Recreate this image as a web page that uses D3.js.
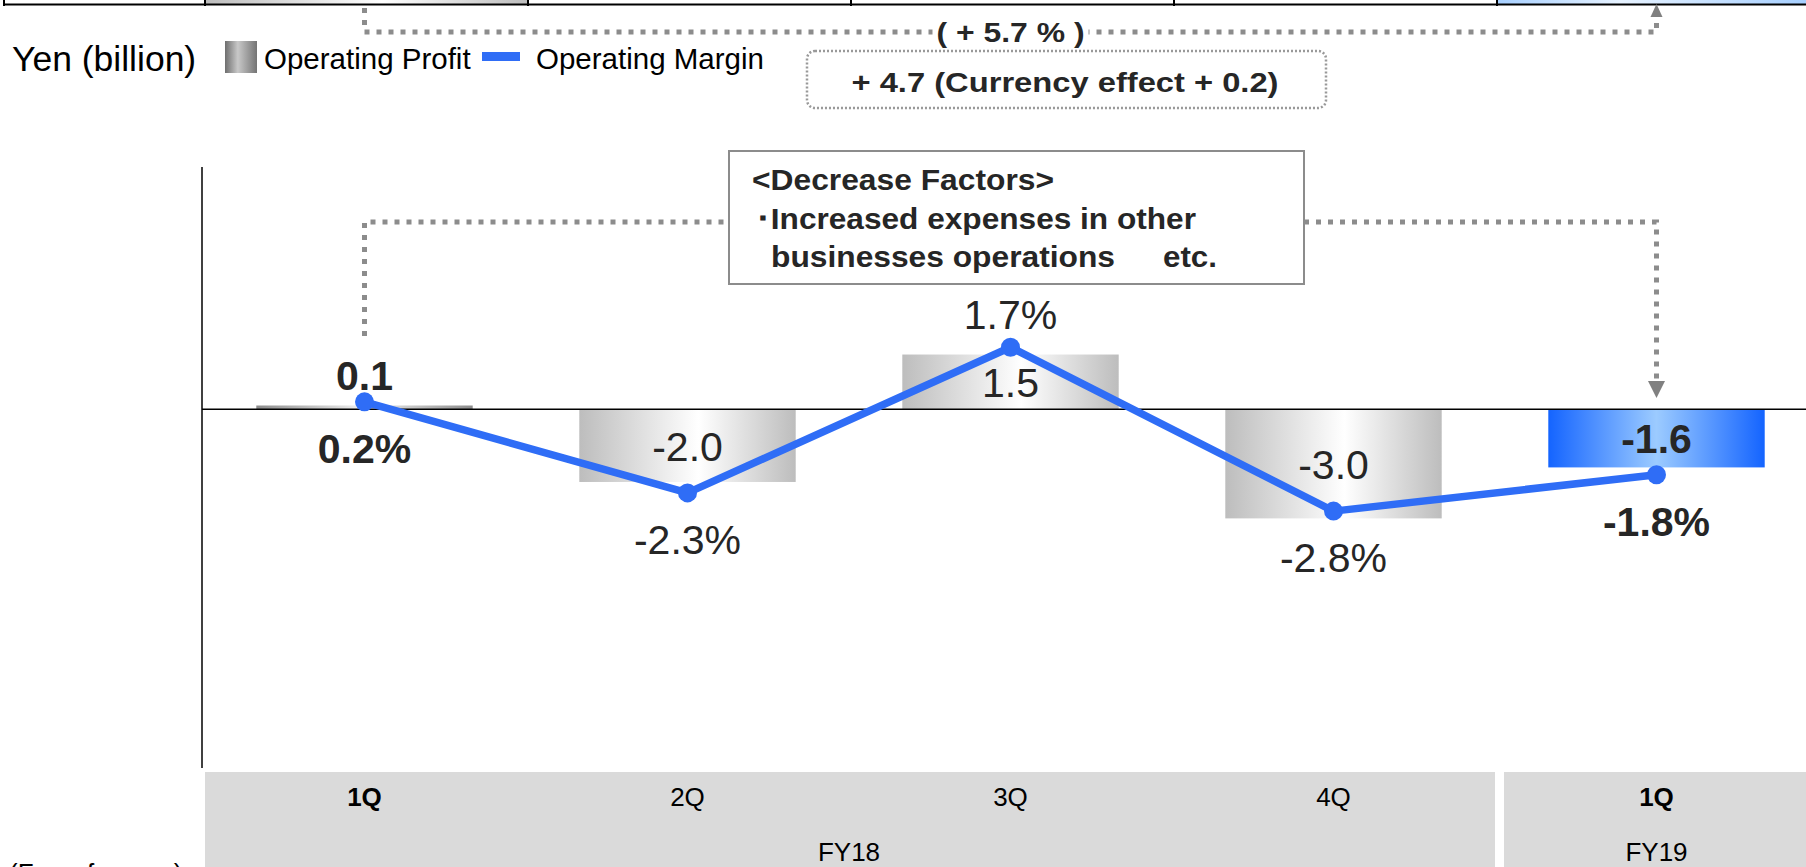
<!DOCTYPE html>
<meta charset="utf-8">
<script src="https://d3js.org/d3.v7.min.js"></script>
<style>
  body { margin: 0; background: #fff; overflow: hidden; }
  text { font-family: "Liberation Sans", Arial, sans-serif; }
</style>
<svg id="chart" width="1806" height="867"></svg>

<script>

// Data
var quarters = ["1Q", "2Q", "3Q", "4Q", "1Q"];
var fiscalYears = ["FY18", "FY18", "FY18", "FY18", "FY19"];
var operatingProfit = [0.1, -2.0, 1.5, -3.0, -1.6];   // Yen (billion)
var operatingMargin = [0.2, -2.3, 1.7, -2.8, -1.8];   // %
var compareIdx = [0, 4];                              // quarters being compared (bold)

// Annotation texts
var unitText = "Yen (billion)";
var legendNames = ["Operating Profit", "Operating Margin"];
var changeText = "( + 5.7 % )";
var currencyText = "+ 4.7 (Currency effect  + 0.2)";
var factorTitle = "<Decrease Factors>";
var factorLine1 = "･Increased expenses in other";
var factorLine2 = "businesses operations";
var factorEtc = "etc.";
var footText = "(For reference)";

var svg = d3.select("#chart"),
  width = +svg.attr("width"),
  height = +svg.attr("height");

var keys = quarters.map(function(q, i) { return fiscalYears[i] + " " + q; });

var x = d3.scaleBand()
  .domain(keys)
  .range([203, 1818])
  .paddingInner(0.33)
  .paddingOuter(0.165);

var y = d3.scaleLinear()
  .domain([-9.8, 6.65])
  .range([766, 167]);

var step = x.step(), bw = x.bandwidth(), half = (step - bw) / 2;
function cx(i) { return x(keys[i]) + bw / 2; }

var lineColor = "#2f6df6";
var textColor = "#262626";
var dotGray = "#8c8c8c";

// gradients
var defs = svg.append("defs");
function hGrad(id, stops) {
  var g = defs.append("linearGradient").attr("id", id)
    .attr("x1", "0%").attr("x2", "100%").attr("y1", "0%").attr("y2", "0%");
  stops.forEach(function(s) {
    g.append("stop").attr("offset", s[0]).attr("stop-color", s[1]);
  });
}
hGrad("gGray", [["0%", "#bdbdbd"], ["55%", "#ffffff"], ["100%", "#bdbdbd"]]);
hGrad("gGrayDark", [["0%", "#8c8c8c"], ["50%", "#f2f2f2"], ["100%", "#8c8c8c"]]);
hGrad("gBlue", [["0%", "#1464ff"], ["50%", "#9ccbff"], ["100%", "#1464ff"]]);
hGrad("gBlueTop", [["0%", "#a6cfff"], ["40%", "#e6f2ff"], ["100%", "#a6cfff"]]);
hGrad("gLegend", [["0%", "#6e6e6e"], ["40%", "#c8c8c8"], ["100%", "#747474"]]);

// bottom of the chart above (cut off by the page edge)
var topDeco = svg.append("g");
topDeco.append("rect").attr("x", x(keys[0]) - half + 2).attr("y", 0)
  .attr("width", step).attr("height", 4).attr("fill", "url(#gGray)");
topDeco.append("rect").attr("x", x(keys[4]) - half + 2).attr("y", 0)
  .attr("width", width - (x(keys[4]) - half + 2)).attr("height", 4).attr("fill", "url(#gBlueTop)");
topDeco.append("line").attr("x1", 4).attr("x2", width).attr("y1", 4.5).attr("y2", 4.5)
  .attr("stroke", "#000").attr("stroke-width", 2);
[4].concat(keys.map(function(k) { return x(k) - half + 2; })).forEach(function(t) {
  topDeco.append("line").attr("x1", t).attr("x2", t).attr("y1", 0).attr("y2", 6)
    .attr("stroke", "#000").attr("stroke-width", 2);
});

// category strip
var years = Array.from(new Set(fiscalYears));
years.forEach(function(fy, gi) {
  var idx = d3.range(keys.length).filter(function(i) { return fiscalYears[i] === fy; });
  var x0 = x(keys[idx[0]]) - half + (gi ? 9 : 2);
  var x1 = x(keys[idx[idx.length - 1]]) + bw + half;
  svg.append("rect").attr("x", x0).attr("y", 772)
    .attr("width", x1 - x0).attr("height", 120).attr("fill", "#dadada");
  svg.append("text").attr("x", (x(keys[idx[0]]) + x(keys[idx[idx.length - 1]]) + bw) / 2)
    .attr("y", 861).attr("text-anchor", "middle")
    .attr("font-size", 26).attr("fill", "#000").text(fy);
});
svg.selectAll(".qLabel")
  .data(keys)
  .enter()
  .append("text")
    .attr("class", "qLabel")
    .attr("x", function(d, i) { return cx(i); })
    .attr("y", 806)
    .attr("text-anchor", "middle")
    .attr("font-size", 26)
    .attr("font-weight", function(d, i) { return compareIdx.indexOf(i) >= 0 ? "bold" : "normal"; })
    .attr("fill", "#000")
    .text(function(d, i) { return quarters[i]; });

// partly below the page edge, as in the slide
svg.append("text").attr("x", 9).attr("y", 882).attr("font-size", 26).attr("fill", "#000").text(footText);

// axis lines
svg.append("line").attr("x1", 202).attr("x2", 202).attr("y1", y.range()[1]).attr("y2", 768)
  .attr("stroke", "#000").attr("stroke-width", 1.5);

// bars
svg.selectAll(".bar")
  .data(operatingProfit)
  .enter()
  .append("rect")
    .attr("class", "bar")
    .attr("x", function(d, i) { return x(keys[i]); })
    .attr("width", bw)
    .attr("y", function(d) { return y(Math.max(0, d)); })
    .attr("height", function(d) { return Math.abs(y(d) - y(0)); })
    .attr("fill", function(d, i) {
      if (i === compareIdx[1]) return "url(#gBlue)";
      if (i === compareIdx[0]) return "url(#gGrayDark)";
      return "url(#gGray)";
    });

svg.append("line").attr("x1", 202).attr("x2", width).attr("y1", y(0)).attr("y2", y(0))
  .attr("stroke", "#000").attr("stroke-width", 1.5);

// bar labels
svg.selectAll(".barLabel")
  .data(operatingProfit)
  .enter()
  .append("text")
    .attr("class", "barLabel")
    .attr("x", function(d, i) { return cx(i); })
    .attr("y", function(d) {
      if (Math.abs(d) < 0.5) return y(Math.max(0, d)) - 16;
      return (y(0) + y(d)) / 2 + 15;
    })
    .attr("text-anchor", "middle")
    .attr("font-size", 41)
    .attr("font-weight", function(d, i) { return compareIdx.indexOf(i) >= 0 ? "bold" : "normal"; })
    .attr("fill", textColor)
    .text(function(d) { return d.toFixed(1); });

// margin line
var line = d3.line()
  .x(function(d, i) { return cx(i); })
  .y(function(d) { return y(d); });

svg.append("path")
  .datum(operatingMargin)
  .attr("d", line)
  .attr("fill", "none")
  .attr("stroke", lineColor)
  .attr("stroke-width", 7.5)
  .attr("stroke-linejoin", "round");

svg.selectAll(".dot")
  .data(operatingMargin)
  .enter()
  .append("circle")
    .attr("cx", function(d, i) { return cx(i); })
    .attr("cy", function(d) { return y(d); })
    .attr("r", 9.5)
    .attr("fill", lineColor);

function isPeak(i) {
  var n = operatingMargin.length, v = operatingMargin[i];
  return i > 0 && i < n - 1 && v > operatingMargin[i - 1] && v > operatingMargin[i + 1];
}
svg.selectAll(".mLabel")
  .data(operatingMargin)
  .enter()
  .append("text")
    .attr("x", function(d, i) { return cx(i); })
    .attr("y", function(d, i) { return isPeak(i) ? y(d) - 18 : y(d) + 61; })
    .attr("text-anchor", "middle")
    .attr("font-size", 41)
    .attr("font-weight", function(d, i) { return compareIdx.indexOf(i) >= 0 ? "bold" : "normal"; })
    .attr("fill", textColor)
    .text(function(d) { return d.toFixed(1) + "%"; });

// legend
var legend = svg.append("g");
legend.append("text").attr("x", 12).attr("y", 71).attr("font-size", 35.5).attr("fill", "#000").text(unitText);
legend.append("rect").attr("x", 225).attr("y", 41).attr("width", 32).attr("height", 32).attr("fill", "url(#gLegend)");
legend.append("text").attr("x", 264).attr("y", 69).attr("font-size", 29.5).attr("fill", "#000").text(legendNames[0]);
legend.append("rect").attr("x", 482).attr("y", 52).attr("width", 38).attr("height", 9).attr("fill", lineColor);
legend.append("text").attr("x", 536).attr("y", 69).attr("font-size", 29.5).attr("fill", "#000").text(legendNames[1]);

// annotations
var xa = cx(compareIdx[0]), xb = cx(compareIdx[1]);
function dottedPath(d) {
  return svg.append("path").attr("d", d)
    .attr("fill", "none")
    .attr("stroke", dotGray)
    .attr("stroke-width", 5)
    .attr("stroke-dasharray", "5,7");
}

// year-on-year change arrow at top
dottedPath("M" + xa + ",8 V32 H" + xb + " V18");
svg.append("path").attr("d", "M" + (xb - 6) + ",17 L" + xb + ",4 L" + (xb + 6) + ",17 Z").attr("fill", "#808080");
var midX = (xa + xb) / 2;
svg.append("rect").attr("x", midX - 78).attr("y", 18).attr("width", 156).attr("height", 30).attr("fill", "#fff");
svg.append("text").attr("x", midX).attr("y", 42).attr("text-anchor", "middle")
  .attr("font-size", 28).attr("font-weight", "bold").attr("fill", textColor)
  .attr("textLength", 148).attr("lengthAdjust", "spacingAndGlyphs").text(changeText);

svg.append("rect").attr("x", 807).attr("y", 51).attr("width", 519).attr("height", 57).attr("rx", 8)
  .attr("fill", "#fff").attr("stroke", "#999").attr("stroke-width", 2.5).attr("stroke-dasharray", "2,2");
svg.append("text").attr("x", 1065).attr("y", 92).attr("text-anchor", "middle")
  .attr("font-size", 28).attr("font-weight", "bold").attr("fill", textColor)
  .attr("textLength", 427).attr("lengthAdjust", "spacingAndGlyphs").text(currencyText);

// decrease factors box and connectors
dottedPath("M" + xa + ",336 V222 H729");
dottedPath("M1304,222 H" + xb + " V382");
svg.append("path").attr("d", "M" + (xb - 8.5) + ",381 L" + xb + ",398 L" + (xb + 8.5) + ",381 Z").attr("fill", "#808080");

svg.append("rect").attr("x", 729).attr("y", 151).attr("width", 575).attr("height", 133)
  .attr("fill", "#fff").attr("stroke", "#8c8c8c").attr("stroke-width", 2);
var fbox = svg.append("g").attr("font-size", 30).attr("font-weight", "bold").attr("fill", textColor);
fbox.append("text").attr("x", 752).attr("y", 190).attr("textLength", 302).attr("lengthAdjust", "spacingAndGlyphs").text(factorTitle);
fbox.append("text").attr("x", 755).attr("y", 229).attr("textLength", 441).attr("lengthAdjust", "spacingAndGlyphs").text(factorLine1);
fbox.append("text").attr("x", 771).attr("y", 267).attr("textLength", 344).attr("lengthAdjust", "spacingAndGlyphs").text(factorLine2);
fbox.append("text").attr("x", 1163).attr("y", 267).attr("textLength", 54).attr("lengthAdjust", "spacingAndGlyphs").text(factorEtc);

</script>
